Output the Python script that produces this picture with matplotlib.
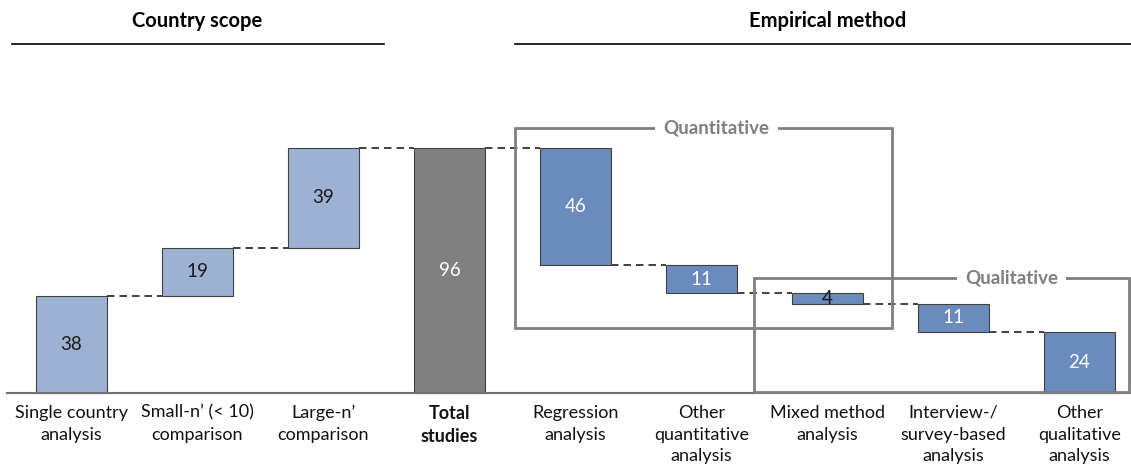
import numpy as np
import matplotlib.pyplot as plt
from matplotlib.patches import Rectangle

plt.rcParams['font.family'] = ['Lato', 'DejaVu Sans']

# data
labels = ["Single country\nanalysis", "Small-n\u2019 (< 10)\ncomparison", "Large-n\u2019\ncomparison",
          "Total\nstudies", "Regression\nanalysis", "Other\nquantitative\nanalysis",
          "Mixed method\nanalysis", "Interview-/\nsurvey-based\nanalysis", "Other\nqualitative\nanalysis"]
scope_vals = [38, 19, 39]
total_val = 96
method_vals = [46, 11, 4, 11, 24]

# waterfall geometry
heights = scope_vals + [total_val] + method_vals
bottoms = []
level = 0
for v in scope_vals:
    bottoms.append(level)
    level += v
bottoms.append(0)
level = total_val
for v in method_vals:
    level -= v
    bottoms.append(level)
ends = list(np.cumsum(scope_vals)) + [total_val] + list(total_val - np.cumsum(method_vals))

c_scope = '#9db2d3'
c_total = '#808080'
c_method = '#6a8bbb'
colors = [c_scope] * 3 + [c_total] + [c_method] * 5
txt_colors = ['#1a1a1a'] * 3 + ['white'] * 3 + ['#1a1a1a'] + ['white'] * 2

fig = plt.figure(figsize=(11.31, 4.73), dpi=100)
ax = fig.add_axes([0, 0, 1, 1])
ax.set_xlim(-0.567, 8.409)
ax.set_ylim(-31.35, 154.0)
ax.axis('off')

x = np.arange(len(heights))
w = 0.56
ax.bar(x, heights, bottom=bottoms, width=w, color=colors, edgecolor='#404040', linewidth=0.8, zorder=2)

for i in range(len(heights)):
    ax.text(x[i], bottoms[i] + heights[i] / 2, str(heights[i]), ha='center', va='center',
            fontsize=13.5, color=txt_colors[i], zorder=4)

# dashed connectors
for i in range(len(heights) - 1):
    ax.plot([x[i] + w / 2, x[i + 1] - w / 2], [ends[i], ends[i]], ls=(0, (4.5, 3)),
            color='#202020', lw=1.2, zorder=1)

# baseline
ax.plot([-0.51, 8.41], [0, 0], color='#707070', lw=1.5, zorder=3)

# category labels
for i, lab in enumerate(labels):
    ax.text(x[i], -4.6, lab, ha='center', va='top', fontsize=13, linespacing=1.45,
            fontweight='bold' if i == 3 else 'normal', color='#111111')

# group boxes
box_kw = dict(fill=False, edgecolor='#7f7f7f', lw=2, zorder=3)
ax.add_patch(Rectangle((3.52, 25.5), 6.51 - 3.52, 103.8 - 25.5, **box_kw))
ax.add_patch(Rectangle((5.42, 0.4), 8.39 - 5.42, 45.1 - 0.4, **box_kw))
ax.text(5.12, 103.8, "Quantitative", ha='center', va='center', fontsize=13.5, color='#7f7f7f',
        fontweight='bold', zorder=5, bbox=dict(facecolor='white', edgecolor='none', pad=6))
ax.text(7.46, 45.1, "Qualitative", ha='center', va='center', fontsize=13.5, color='#7f7f7f',
        fontweight='bold', zorder=5, bbox=dict(facecolor='white', edgecolor='none', pad=6))

# section headers
ax.plot([-0.47, 2.48], [136.8, 136.8], color='black', lw=1.2)
ax.plot([3.52, 8.41], [136.8, 136.8], color='black', lw=1.2)
ax.text(1.0, 145.8, "Country scope", ha='center', va='center', fontsize=14.5, fontweight='bold')
ax.text(6.0, 145.8, "Empirical method", ha='center', va='center', fontsize=14.5, fontweight='bold')

fig.savefig('out.png', dpi=100)
